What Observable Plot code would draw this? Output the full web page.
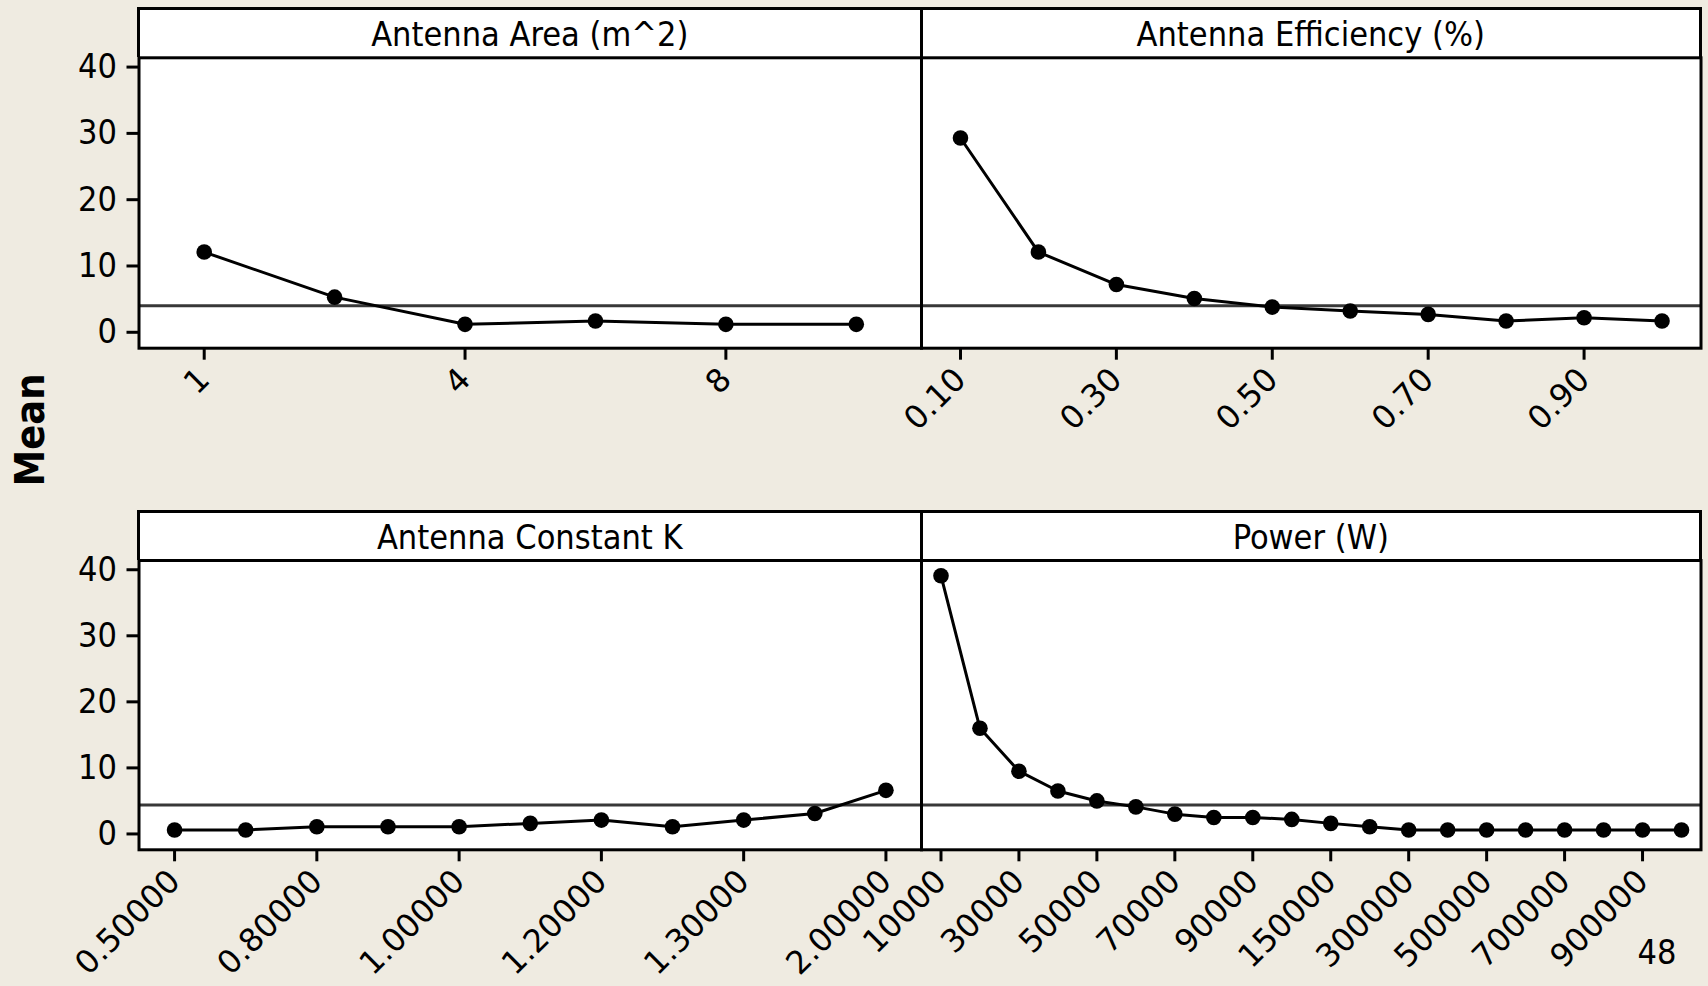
<!DOCTYPE html>
<html>
<head>
<meta charset="utf-8">
<script src="https://cdn.jsdelivr.net/npm/d3@7"></script>
<script src="https://cdn.jsdelivr.net/npm/@observablehq/plot@0.6"></script>
<style>
html, body { margin: 0; padding: 0; background: #efebe1; }
#root { position: relative; width: 1708px; height: 986px; overflow: hidden; background: #efebe1;
  font-family: 'DejaVu Sans Condensed', 'DejaVu Sans', sans-serif; font-stretch: condensed; color: #000; }
.strip { position: absolute; box-sizing: border-box; background: #fff; border: 3px solid #000; border-bottom: none;
  text-align: center; font-size: 34px; line-height: 40px; padding-top: 4px; white-space: nowrap; }
.layer { position: absolute; left: 0; top: 0; }
.layer g[aria-label="x-axis tick label"] { font-stretch: normal; }
.ylab { position: absolute; font-weight: bold; font-size: 41px; white-space: nowrap; transform-origin: center center; }
.corner { position: absolute; font-size: 34px; white-space: nowrap; }
</style>
</head>
<body>
<div id="root"></div>
<script>
// ---------- data ----------
const areaCats  = ["1", "2", "4", "6", "8", "10"];
const areaMeans = [12.1, 5.3, 1.2, 1.7, 1.2, 1.2];
const areaTicks = ["1", "4", "8"];

const effCats  = ["0.10", "0.20", "0.30", "0.40", "0.50", "0.60", "0.70", "0.80", "0.90", "1.00"];
const effMeans = [29.3, 12.1, 7.2, 5.1, 3.8, 3.2, 2.7, 1.7, 2.2, 1.7];
const effTicks = ["0.10", "0.30", "0.50", "0.70", "0.90"];

const kCats  = ["0.50000", "0.70000", "0.80000", "0.90000", "1.00000", "1.10000", "1.20000", "1.25000", "1.30000", "1.50000", "2.00000"];
const kMeans = [0.6, 0.6, 1.1, 1.1, 1.1, 1.6, 2.1, 1.1, 2.1, 3.1, 6.6];
const kTicks = ["0.50000", "0.80000", "1.00000", "1.20000", "1.30000", "2.00000"];

const powerCats  = ["10000", "20000", "30000", "40000", "50000", "60000", "70000", "80000", "90000", "100000",
                    "150000", "200000", "300000", "400000", "500000", "600000", "700000", "800000", "900000", "1000000"];
const powerMeans = [39.1, 16.0, 9.5, 6.5, 5.0, 4.1, 3.0, 2.5, 2.5, 2.2, 1.6, 1.1, 0.6, 0.6, 0.6, 0.6, 0.6, 0.6, 0.6, 0.6];
const powerTicks = ["10000", "30000", "50000", "70000", "90000", "150000", "300000", "500000", "700000", "900000"];

const panelTitles = ["Antenna Area (m^2)", "Antenna Efficiency (%)", "Antenna Constant K", "Power (W)"];
const grandMeans = [4.0, 4.0, 4.4, 4.4];
const yTicks = [0, 10, 20, 30, 40];
const yLabel = "Mean";
const cornerNote = "48";

// ---------- layout ----------
const W = 1708, H = 986;
const FONT = "'DejaVu Sans Condensed', 'DejaVu Sans', sans-serif";
const colX = [[138.5, 921], [921, 1700.5]];
const rows = [
  { outerTop: 8.5, stripBottom: 57.3, plotBottom: 347.7 },
  { outerTop: 511.5, stripBottom: 560, plotBottom: 849.3 }
];
const yDomain = [-2.4, 41.4];

const panels = [
  { cats: areaCats, vals: areaMeans, ticks: areaTicks, col: 0, row: 0 },
  { cats: effCats, vals: effMeans, ticks: effTicks, col: 1, row: 0 },
  { cats: kCats, vals: kMeans, ticks: kTicks, col: 0, row: 1 },
  { cats: powerCats, vals: powerMeans, ticks: powerTicks, col: 1, row: 1 }
];

const root = document.getElementById("root");

panels.forEach((p, i) => {
  const [x0, x1] = colX[p.col];
  const r = rows[p.row];
  const strip = document.createElement("div");
  strip.className = "strip";
  strip.style.left = (x0 - 1.5) + "px";
  strip.style.top = (r.outerTop - 1.5) + "px";
  strip.style.width = (x1 - x0 + 3) + "px";
  strip.style.height = (r.stripBottom - r.outerTop + 1.5) + "px";
  strip.textContent = panelTitles[i];
  root.appendChild(strip);
});

panels.forEach((p, i) => {
  const [x0, x1] = colX[p.col];
  const r = rows[p.row];
  const data = p.cats.map((c, j) => ({ c, v: p.vals[j] }));
  const marks = [
    Plot.frame({ fill: "#fff" }),
    Plot.ruleY([grandMeans[i]], { stroke: "#383838", strokeWidth: 3 }),
    Plot.line(data, { x: "c", y: "v", stroke: "#000", strokeWidth: 3 }),
    Plot.dot(data, { x: "c", y: "v", r: 7.8, fill: "#000", stroke: "none" }),
    Plot.frame({ stroke: "#000", strokeWidth: 3 }),
    Plot.axisX({ ticks: p.ticks, tickRotate: -45, tickSize: 12, tickPadding: 14, strokeWidth: 3, label: null,
                 fill: "#000", fontFamily: "'DejaVu Sans', sans-serif", fontSize: 32 })
  ];
  if (p.col === 0) {
    marks.push(Plot.axisY({ ticks: yTicks, tickSize: 12, tickPadding: 10, strokeWidth: 3, label: null, fill: "#000" }));
  }
  const svg = Plot.plot({
    width: W, height: H,
    marginLeft: x0, marginRight: W - x1,
    marginTop: r.stripBottom, marginBottom: H - r.plotBottom,
    style: { background: "transparent", color: "#000", fontFamily: FONT, fontSize: "34px", fontStretch: "condensed", overflow: "visible" },
    x: { type: "point", domain: p.cats, padding: 0.5, round: false, axis: null },
    y: { domain: yDomain, axis: null },
    marks
  });
  svg.classList.add("layer");
  root.appendChild(svg);
});

const yl = document.createElement("div");
yl.className = "ylab";
yl.textContent = yLabel;
root.appendChild(yl);
{
  const w = yl.offsetWidth, h = yl.offsetHeight;
  yl.style.left = (30 - w / 2) + "px";
  yl.style.top = (430 - h / 2) + "px";
  yl.style.transform = "rotate(-90deg)";
}

const cn = document.createElement("div");
cn.className = "corner";
cn.textContent = cornerNote;
root.appendChild(cn);
cn.style.left = (1657 - cn.offsetWidth / 2) + "px";
cn.style.top = "932px";
</script>
</body>
</html>
